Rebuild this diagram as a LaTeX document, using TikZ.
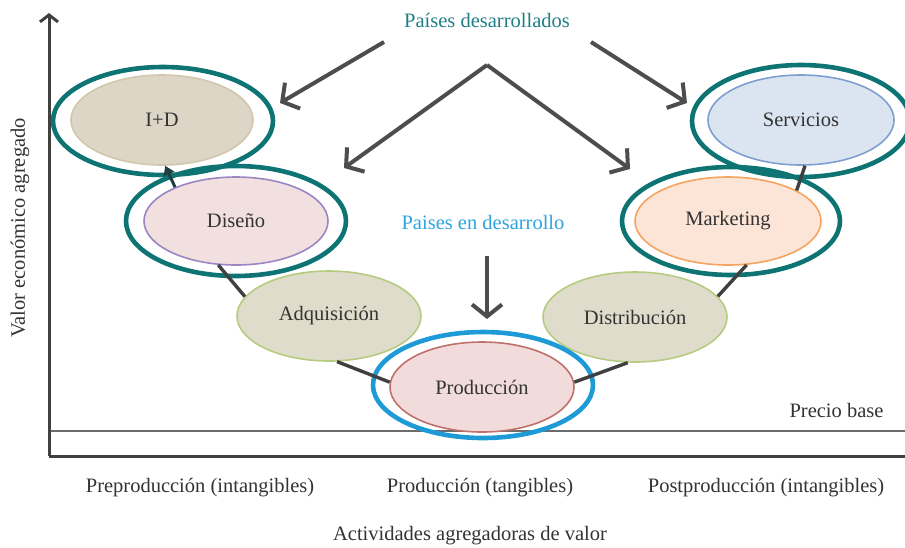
\documentclass[tikz,border=0pt]{standalone}
\usepackage{fontspec}
\setmainfont{Liberation Serif}
\usetikzlibrary{shapes.geometric,arrows.meta}
\definecolor{ringteal}{HTML}{0E7373}
\definecolor{ringblue}{HTML}{1E9BD7}
\definecolor{txtdark}{HTML}{333333}
\definecolor{arrgray}{HTML}{4D4D4D}
\definecolor{linkgray}{HTML}{404040}
\definecolor{tealtxt}{HTML}{1F7F86}
\definecolor{bluetxt}{HTML}{2EA3E0}
\definecolor{idfill}{HTML}{DDD6C6}
\definecolor{idline}{HTML}{D2C6AC}
\definecolor{disfill}{HTML}{F1E0DF}
\definecolor{disline}{HTML}{9B85C2}
\definecolor{olvfill}{HTML}{E0DCCB}
\definecolor{olvline}{HTML}{B5CC80}
\definecolor{prodfill}{HTML}{F2DCDB}
\definecolor{prodline}{HTML}{C0706A}
\definecolor{mktfill}{HTML}{FCE4D6}
\definecolor{mktline}{HTML}{F4A460}
\definecolor{servfill}{HTML}{DBE5F1}
\definecolor{servline}{HTML}{7F9FD0}
\definecolor{arrowdark}{HTML}{1F3F3F}
\begin{document}
\begin{tikzpicture}[x=1pt,y=-1pt,
  every node/.style={font=\fontsize{20.5}{24}\selectfont, text=txtdark},
  stage/.style={ellipse, draw, line width=1.6pt, inner sep=0pt,
                minimum width=184pt, minimum height=90pt},
  ring/.style={draw=ringteal, line width=4.6pt},
  bluering/.style={draw=ringblue, line width=4.6pt},
  link/.style={draw=linkgray, line width=3.4pt},
  bigarrow/.style={draw=arrgray, line width=4pt,
                   -{Straight Barb[length=12pt,width=30pt]}},
  axis/.style={draw=linkgray, line width=3pt}]
\useasboundingbox (0,0) rectangle (905,547);

% axes and base price line
\coordinate (O) at (49,456);
\coordinate (Ytop) at (49,13);
\coordinate (Xend) at (905,456);
\coordinate (Pb1) at (49,431);
\coordinate (Pb2) at (905,431);
\draw[draw=gray!85!black, line width=2pt] (Pb1) -- (Pb2);
\draw[axis, -{Straight Barb[length=7pt,width=18pt]}] (O) -- (Ytop);
\draw[axis] (O) -- (Xend);

% value chain stages
\node[stage, fill=idfill, draw=idline, minimum width=182pt] (ID) at (162,120) {I+D};
\node[stage, fill=disfill, draw=disline, minimum height=88pt] (DIS) at (236,221) {Diseño};
\node[stage, fill=olvfill, draw=olvline] (ADQ) at (329,316) {Adquisición};
\node[stage, fill=prodfill, draw=prodline] (PROD) at (482,387) {Producción};
\node[stage, fill=olvfill, draw=olvline] (DIST) at (635,317) {Distribución};
\node[stage, fill=mktfill, draw=mktline, minimum width=186pt, minimum height=88pt] (MKT) at (728,221) {Marketing};
\node[stage, fill=servfill, draw=servline, minimum width=186pt] (SERV) at (801,120) {Servicios};

% highlight rings
\draw[ring] ([xshift=1pt,yshift=-1pt]ID.center) ellipse [x radius=110, y radius=54];
\draw[ring] (DIS.center) ellipse [x radius=110, y radius=55];
\draw[ring] ([xshift=3pt]MKT.center) ellipse [x radius=109, y radius=54];
\draw[ring] ([yshift=-1pt]SERV.center) ellipse [x radius=109, y radius=56];
\draw[bluering] ([xshift=1pt,yshift=2pt]PROD.center) ellipse [x radius=110, y radius=53];

% links between stages
\draw[draw=arrowdark, line width=3pt, -{Triangle[length=9pt,width=11pt]}] (DIS.151) -- (ID.274);
\draw[link] (DIS.248) -- (ADQ.167);
\draw[link] (ADQ.280) -- (PROD.177);
\draw[link] (PROD.3) -- (DIST.261);
\draw[link] (DIST.14) -- (MKT.293);
\draw[link] (MKT.24) -- (SERV.275);

% country labels and arrows
\node[text=tealtxt] (DEV) at (487,20) {Países desarrollados};
\node[text=bluetxt] (EMG) at (483,222) {Paises en desarrollo};
\coordinate (L1s) at (384,42);
\coordinate (L1e) at (280,103);
\coordinate (R1s) at (591,42);
\coordinate (R1e) at (687,103);
\coordinate (Apex) at (487,65);
\coordinate (L2e) at (344,168);
\coordinate (R2e) at (630,169);
\coordinate (Ds) at (487,256);
\coordinate (De) at (487,319);
\draw[bigarrow] (L1s) -- (L1e);
\draw[bigarrow] (R1s) -- (R1e);
\draw[bigarrow] (Apex) -- (L2e);
\draw[bigarrow] (Apex) -- (R2e);
\draw[bigarrow] (Ds) -- (De);

% axis labels
\node[anchor=east] (PB) at (887,410) {Precio base};
\node (PRE) at (200,488) {Preproducción (intangibles)};
\node (PRO) at (480,488) {Producción (tangibles)};
\node (POST) at (766,488) {Postproducción (intangibles)};
\node (XL) at (470,536) {Actividades agregadoras de valor};
\node[rotate=90] (YL) at (20,228) {Valor económico agregado};
\end{tikzpicture}
\end{document}
